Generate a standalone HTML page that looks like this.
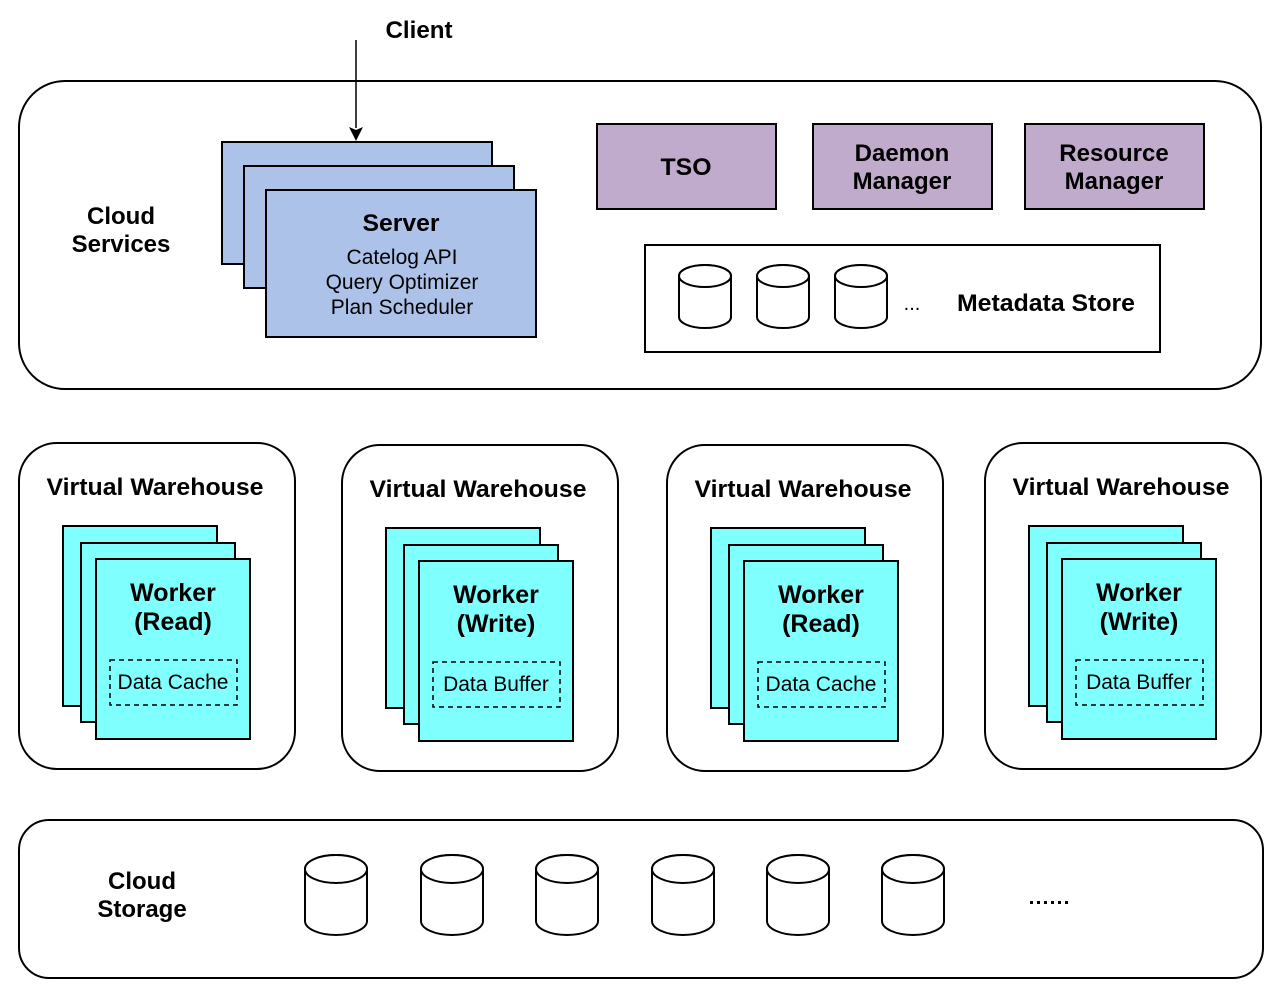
<!DOCTYPE html>
<html><head><meta charset="utf-8"><style>html,body{margin:0;padding:0;background:#fff}svg{display:block}</style></head>
<body>
<svg width="1280" height="997" viewBox="0 0 1280 997" xmlns="http://www.w3.org/2000/svg" font-family="Liberation Sans, Arial, sans-serif">
<rect width="1280" height="997" fill="#fff"/>
<!-- Cloud Services -->
<rect x="19" y="81" width="1242" height="308" rx="46" fill="#fff" stroke="#000" stroke-width="2"/>
<!-- Client -->
<text x="419" y="38" font-size="24" font-weight="bold" text-anchor="middle" textLength="67" lengthAdjust="spacingAndGlyphs">Client</text>
<line x1="356" y1="40" x2="356" y2="128" stroke="#000" stroke-width="1.5"/>
<polygon points="349,127 356,141 363,127 356,130" fill="#000"/>
<text x="121" y="224" font-size="24" font-weight="bold" text-anchor="middle">Cloud</text>
<text x="121" y="252" font-size="24" font-weight="bold" text-anchor="middle">Services</text>
<g fill="#adc2e8" stroke="#000" stroke-width="2">
<rect x="222" y="142" width="270" height="122"/>
<rect x="244" y="166" width="270" height="122"/>
<rect x="266" y="190" width="270" height="147"/>
</g>
<text x="401" y="231" font-size="24" font-weight="bold" text-anchor="middle" textLength="77" lengthAdjust="spacingAndGlyphs">Server</text>
<text x="402" y="264" font-size="21" text-anchor="middle">Catelog API</text>
<text x="402" y="289" font-size="21" text-anchor="middle">Query Optimizer</text>
<text x="402" y="314" font-size="21" text-anchor="middle">Plan Scheduler</text>

<g fill="#c1abcd" stroke="#000" stroke-width="2">
<rect x="597" y="124" width="179" height="85"/>
<rect x="813" y="124" width="179" height="85"/>
<rect x="1025" y="124" width="179" height="85"/>
</g>
<g font-size="24" font-weight="bold" text-anchor="middle">
<text x="686" y="175" textLength="51" lengthAdjust="spacingAndGlyphs">TSO</text>
<text x="902" y="161">Daemon</text>
<text x="902" y="189">Manager</text>
<text x="1114" y="161">Resource</text>
<text x="1114" y="189">Manager</text>
</g>

<rect x="645" y="245" width="515" height="107" fill="#fff" stroke="#000" stroke-width="2"/>
<g fill="#fff" stroke="#000" stroke-width="2">
<path d="M679,276 A26,11 0 0 1 731,276 V317 A26,11 0 0 1 679,317 Z"/><ellipse cx="705" cy="276" rx="26" ry="11"/>
<path d="M757,276 A26,11 0 0 1 809,276 V317 A26,11 0 0 1 757,317 Z"/><ellipse cx="783" cy="276" rx="26" ry="11"/>
<path d="M835,276 A26,11 0 0 1 887,276 V317 A26,11 0 0 1 835,317 Z"/><ellipse cx="861" cy="276" rx="26" ry="11"/>
</g>
<text x="912" y="310" font-size="20" text-anchor="middle">...</text>
<text x="1046" y="311" font-size="24" font-weight="bold" text-anchor="middle" textLength="178" lengthAdjust="spacingAndGlyphs">Metadata Store</text>

<!-- Virtual Warehouses -->
<g transform="translate(19,443)">
<rect x="0" y="0" width="276" height="326" rx="38" fill="#fff" stroke="#000" stroke-width="2"/>
<text x="136" y="52" font-size="24" font-weight="bold" text-anchor="middle" textLength="217" lengthAdjust="spacingAndGlyphs">Virtual Warehouse</text>
<g fill="#80ffff" stroke="#000" stroke-width="2">
<rect x="44" y="83" width="154" height="180"/><rect x="62" y="100" width="154" height="179"/><rect x="77" y="116" width="154" height="180"/>
</g>
<rect x="91" y="217" width="127" height="45" fill="none" stroke="#000" stroke-width="1.5" stroke-dasharray="5,4"/>
<text x="154" y="158" font-size="25" font-weight="bold" text-anchor="middle">Worker</text>
<text x="154" y="187" font-size="25" font-weight="bold" text-anchor="middle">(Read)</text>
<text x="154" y="246" font-size="21" text-anchor="middle">Data Cache</text>
</g>
<g transform="translate(342,445)">
<rect x="0" y="0" width="276" height="326" rx="38" fill="#fff" stroke="#000" stroke-width="2"/>
<text x="136" y="52" font-size="24" font-weight="bold" text-anchor="middle" textLength="217" lengthAdjust="spacingAndGlyphs">Virtual Warehouse</text>
<g fill="#80ffff" stroke="#000" stroke-width="2">
<rect x="44" y="83" width="154" height="180"/><rect x="62" y="100" width="154" height="179"/><rect x="77" y="116" width="154" height="180"/>
</g>
<rect x="91" y="217" width="127" height="45" fill="none" stroke="#000" stroke-width="1.5" stroke-dasharray="5,4"/>
<text x="154" y="158" font-size="25" font-weight="bold" text-anchor="middle">Worker</text>
<text x="154" y="187" font-size="25" font-weight="bold" text-anchor="middle">(Write)</text>
<text x="154" y="246" font-size="21" text-anchor="middle">Data Buffer</text>
</g>
<g transform="translate(667,445)">
<rect x="0" y="0" width="276" height="326" rx="38" fill="#fff" stroke="#000" stroke-width="2"/>
<text x="136" y="52" font-size="24" font-weight="bold" text-anchor="middle" textLength="217" lengthAdjust="spacingAndGlyphs">Virtual Warehouse</text>
<g fill="#80ffff" stroke="#000" stroke-width="2">
<rect x="44" y="83" width="154" height="180"/><rect x="62" y="100" width="154" height="179"/><rect x="77" y="116" width="154" height="180"/>
</g>
<rect x="91" y="217" width="127" height="45" fill="none" stroke="#000" stroke-width="1.5" stroke-dasharray="5,4"/>
<text x="154" y="158" font-size="25" font-weight="bold" text-anchor="middle">Worker</text>
<text x="154" y="187" font-size="25" font-weight="bold" text-anchor="middle">(Read)</text>
<text x="154" y="246" font-size="21" text-anchor="middle">Data Cache</text>
</g>
<g transform="translate(985,443)">
<rect x="0" y="0" width="276" height="326" rx="38" fill="#fff" stroke="#000" stroke-width="2"/>
<text x="136" y="52" font-size="24" font-weight="bold" text-anchor="middle" textLength="217" lengthAdjust="spacingAndGlyphs">Virtual Warehouse</text>
<g fill="#80ffff" stroke="#000" stroke-width="2">
<rect x="44" y="83" width="154" height="180"/><rect x="62" y="100" width="154" height="179"/><rect x="77" y="116" width="154" height="180"/>
</g>
<rect x="91" y="217" width="127" height="45" fill="none" stroke="#000" stroke-width="1.5" stroke-dasharray="5,4"/>
<text x="154" y="158" font-size="25" font-weight="bold" text-anchor="middle">Worker</text>
<text x="154" y="187" font-size="25" font-weight="bold" text-anchor="middle">(Write)</text>
<text x="154" y="246" font-size="21" text-anchor="middle">Data Buffer</text>
</g>

<!-- Cloud Storage -->
<rect x="19" y="820" width="1244" height="158" rx="30" fill="#fff" stroke="#000" stroke-width="2"/>
<text x="142" y="889" font-size="24" font-weight="bold" text-anchor="middle">Cloud</text>
<text x="142" y="917" font-size="24" font-weight="bold" text-anchor="middle">Storage</text>
<g fill="#fff" stroke="#000" stroke-width="2">
<path d="M305,869 A31,14 0 0 1 367,869 V921 A31,14 0 0 1 305,921 Z"/><ellipse cx="336" cy="869" rx="31" ry="14"/>
<path d="M421,869 A31,14 0 0 1 483,869 V921 A31,14 0 0 1 421,921 Z"/><ellipse cx="452" cy="869" rx="31" ry="14"/>
<path d="M536,869 A31,14 0 0 1 598,869 V921 A31,14 0 0 1 536,921 Z"/><ellipse cx="567" cy="869" rx="31" ry="14"/>
<path d="M652,869 A31,14 0 0 1 714,869 V921 A31,14 0 0 1 652,921 Z"/><ellipse cx="683" cy="869" rx="31" ry="14"/>
<path d="M767,869 A31,14 0 0 1 829,869 V921 A31,14 0 0 1 767,921 Z"/><ellipse cx="798" cy="869" rx="31" ry="14"/>
<path d="M882,869 A31,14 0 0 1 944,869 V921 A31,14 0 0 1 882,921 Z"/><ellipse cx="913" cy="869" rx="31" ry="14"/>
</g>
<g fill="#000">
<rect x="1030" y="901" width="3" height="3"/><rect x="1037" y="901" width="3" height="3"/><rect x="1044" y="901" width="3" height="3"/>
<rect x="1051" y="901" width="3" height="3"/><rect x="1058" y="901" width="3" height="3"/><rect x="1065" y="901" width="3" height="3"/>
</g>
</svg>
</body></html>
